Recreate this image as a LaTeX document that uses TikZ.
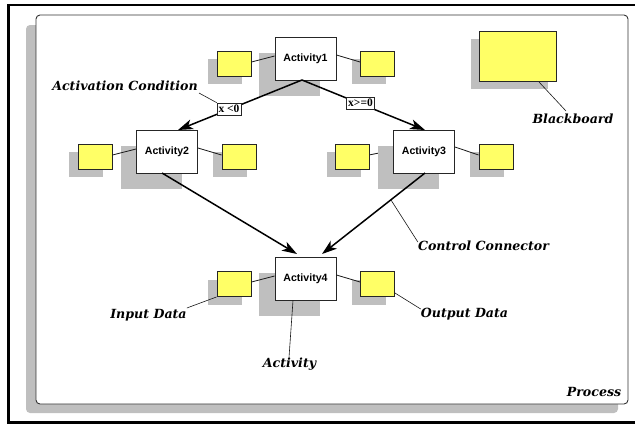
\documentclass[tikz,border=0pt]{standalone}
\usepackage{fontspec}
\newfontfamily\actfont{Liberation Sans}
\newfontfamily\condfont{Liberation Serif}
\newfontfamily\capfont{DejaVu Serif}
\usetikzlibrary{shadows,arrows.meta}
\definecolor{datayellow}{RGB}{255,255,102}
\definecolor{shadowgray}{RGB}{191,191,191}
\tikzset{
  activity/.style={draw=black!85, fill=white, line width=0.9pt, minimum width=61pt, minimum height=43pt,
    inner sep=0pt, font=\actfont\bfseries\fontsize{10.6}{12}\selectfont,
    drop shadow={shadow xshift=-16pt, shadow yshift=-16pt, opacity=1, fill=shadowgray}},
  datum/.style={draw=black!85, fill=datayellow, line width=0.9pt, minimum width=34pt, minimum height=25pt,
    inner sep=0pt, drop shadow={shadow xshift=-9pt, shadow yshift=-8pt, opacity=1, fill=shadowgray}},
  board/.style={draw=black!85, fill=datayellow, line width=0.9pt, minimum width=77pt, minimum height=50pt,
    inner sep=0pt, drop shadow={shadow xshift=-8pt, shadow yshift=-8pt, opacity=1, fill=shadowgray}},
  cond/.style={draw=black!85, fill=white, line width=0.7pt, inner xsep=1.5pt, inner ysep=0pt,
    minimum height=12pt, font=\condfont\bfseries\fontsize{11.5}{12}\selectfont},
  caption/.style={font=\capfont\bfseries\itshape\fontsize{12.6}{14}\selectfont, inner sep=0pt},
  dataline/.style={line width=0.8pt, black!90},
  pointer/.style={line width=0.6pt, black!90},
  control/.style={line width=1.5pt, -{Stealth[length=15pt, width=10pt, inset=4pt]}},
}
\begin{document}
\begin{tikzpicture}[x=1pt, y=-1pt]
\useasboundingbox (0,0) rectangle (635,426);
% frame of the sheet
\draw[line width=2.5pt] (640,5) -- (8.5,5) -- (8.5,422.5) -- (640,422.5);
% process area with its shadow
\fill[shadowgray, rounded corners=4pt] (26,25) rectangle (618,413);
\draw[fill=white, draw=black!80, line width=0.9pt, rounded corners=4pt] (36,15) rectangle (628,404);

% connector that passes under the shadow of Activity3
\coordinate (h3) at (394,150);
\coordinate (g3) at (369,155);
\draw[dataline] (g3) -- (h3);

% activities
\node[activity] (a1) at (305.5,58.5) {Activity1};
\node[activity] (a2) at (167,151.5) {Activity2};
\node[activity] (a3) at (424,151.5) {Activity3};
\node[activity] (a4) at (305.5,278.5) {Activity4};

% data containers
\node[datum] (d1l) at (234,63.5) {};
\node[datum] (d1r) at (377.5,63.5) {};
\node[datum] (d2l) at (95,156.5) {};
\node[datum] (d2r) at (239,156.5) {};
\node[datum] (d3l) at (352.5,156.5) {};
\node[datum] (d3r) at (496,156.5) {};
\node[datum] (d4l) at (234,284) {};
\node[datum] (d4r) at (377.5,284) {};
\node[board] (bb) at (517.5,56) {};

% data connectors
\draw[dataline] (d1l.east |- 0,62) -- (a1.west |- 0,56);
\draw[dataline] (a1.east |- 0,55) -- (d1r.west |- 0,62);
\draw[dataline] (d2l.east |- 0,155) -- (a2.west |- 0,149);
\draw[dataline] (a2.east |- 0,148) -- (d2r.west |- 0,155);
\draw[dataline] (a3.east |- 0,147) -- (d3r.west |- 0,155);
\draw[dataline] (d4l.east |- 0,282) -- (a4.west |- 0,276);
\draw[dataline] (a4.east |- 0,275) -- (d4r.west |- 0,282);

% control connectors
\coordinate (s1) at (302,80);
\draw[control] (s1) -- (178,130) coordinate (t2);
\draw[control] (s1) -- (425,130) coordinate (t3);
\draw[control] (162,173) coordinate (s2) -- (297,254) coordinate (t4a);
\draw[control] (425,173) coordinate (s3) -- (322,254) coordinate (t4b);

% activation conditions
\node[cond] (c1) at (229,109) {x <0};
\node[cond] (c2) at (360.5,103) {x>=0};

% explanatory captions
\node[caption] (lac) at (125,86) {Activation Condition};
\draw[pointer] (199,93) -- (c1.north west);
\node[caption] (lbb) at (573,119) {Blackboard};
\coordinate (bbfoot) at (539,82);
\coordinate (bbtip) at (566,111);
\draw[pointer] (bbfoot) -- (bbtip);
\node[caption] (lcc) at (483.5,246) {Control Connector};
\coordinate (onc) at (391,200);
\draw[pointer] (onc) -- (lcc.west |- 0,242);
\node[caption] (lin) at (148.5,315) {Input Data};
\draw[pointer] (lin.east |- 0,308) -- (d4l.south west);
\node[caption] (lout) at (464.5,314) {Output Data};
\draw[pointer] (d4r.east |- 0,293) -- (lout.west |- 0,309);
\node[caption] (lact) at (289.5,364) {Activity};
\draw[pointer] (a4.south -| 293,0) -- (lact.north -| 289,0);
\node[caption] (lpr) at (594,392) {Process};
\end{tikzpicture}
\end{document}
